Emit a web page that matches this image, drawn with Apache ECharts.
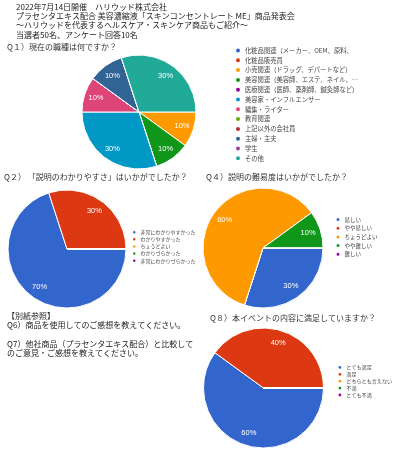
<!DOCTYPE html>
<html><head><meta charset="utf-8">
<script src="https://cdn.jsdelivr.net/npm/echarts@6/dist/echarts.min.js"></script>
<style>html,body{margin:0;padding:0;background:#fff}#c{width:394px;height:450px}</style>
</head><body><div id="c"></div>
<script>
const PALETTE = ['#3366cc','#dc3912','#ff9900','#109618','#990099','#0099c6','#dd4477','#66aa00','#b82e2e','#316395','#994499','#22aa99'];

const headerLines = [
  '2022年7月14日開催　ハリウッド株式会社',
  'プラセンタエキス配合 美容濃縮液「スキンコンセントレート ME」商品発表会',
  '～ハリウッドを代表するヘルスケア・スキンケア商品もご紹介～',
  '当選者50名、アンケート回答10名'
];
const q1Title = 'Q１）現在の職種は何ですか？';
const q2Title = 'Q２） 「説明のわかりやすさ」はいかがでしたか？';
const q4Title = 'Q４）説明の難易度はいかがでしたか？';
const q8Title = 'Q８）本イベントの内容に満足していますか？';
const noteLines = [
  '【別紙参照】',
  'Q6）商品を使用してのご感想を教えてください。',
  '',
  'Q7）他社商品（プラセンタエキス配合）と比較して',
  'のご意見・ご感想を教えてください。'
];

const q1Categories = ['化粧品関連（メーカー、OEM、原料、','化粧品販売員','小売関連（ドラッグ、デパートなど）','美容関連（美容師、エステ、ネイル、…','医療関連（医師、薬剤師、鍼灸師など）','美容家・インフルエンサー','編集・ライター','教育関連','上記以外の会社員','主婦・主夫','学生','その他'];
const q1Values = [0,0,1,1,0,3,1,0,0,1,0,3];

const q2Categories = ['非常にわかりやすかった','わかりやすかった','ちょうどよい','わかりづらかった','非常にわかりづらかった'];
const q2Values = [7,3,0,0,0];

const q4Categories = ['易しい','やや易しい','ちょうどよい','やや難しい','難しい'];
const q4Values = [3,0,6,1,0];

const q8Categories = ['とても満足','満足','どちらとも言えない','不満','とても不満'];
const q8Values = [6,4,0,0,0];

const FONT = '"Noto Sans CJK JP", "Noto Sans", sans-serif';

function makeData(cats, vals) {
  return cats.map((n, i) => ({ name: n, value: vals[i], itemStyle: { color: PALETTE[i] } }));
}

function pieSeries(cats, vals, center, r) {
  const data = makeData(cats, vals);
  return [
    {
      type: 'pie', center: center, radius: r, startAngle: 0, clockwise: true,
      data: data, silent: true,
      itemStyle: { borderColor: '#fff', borderWidth: 1 },
      label: { show: false }, labelLine: { show: false },
      emphasis: { disabled: true }
    },
    {
      type: 'pie', center: center, radius: [r * 0.48, r], startAngle: 0, clockwise: true,
      data: cats.map((n, i) => ({ name: n, value: vals[i], itemStyle: { color: 'rgba(0,0,0,0)' } })),
      silent: true, legendHoverLink: false,
      itemStyle: { borderWidth: 0 },
      label: {
        show: true, position: 'inside', color: '#fff', fontSize: 7.5,
        fontFamily: 'Arial, "Liberation Sans", sans-serif',
        formatter: p => p.value ? Math.round(p.percent) + '%' : ''
      },
      labelLine: { show: false },
      emphasis: { disabled: true }
    }
  ];
}

function legendCfg(cats, left, top, size, fontSize, lh, gap) {
  return {
    data: cats, orient: 'vertical', left: left, top: top, padding: 0,
    icon: 'circle', itemWidth: size, itemHeight: size, itemGap: gap,
    selectedMode: false,
    textStyle: { fontSize: fontSize, lineHeight: lh, color: '#444', fontFamily: FONT, padding: [0,0,0,-1] }
  };
}

function textTitle(text, left, top, fs, lh, color) {
  return {
    text: text, left: left, top: top, padding: 0,
    textStyle: { fontSize: fs, lineHeight: lh, fontWeight: 'normal', color: color, fontFamily: FONT }
  };
}

const chart = echarts.init(document.getElementById('c'));
chart.setOption({
  animation: false,
  backgroundColor: '#fff',
  title: [
    textTitle(headerLines.join('\n'), 16, 2, 8, 9.3, '#222'),
    textTitle(q1Title, 7, 42.5, 8, 9, '#333'),
    textTitle(q2Title, 4, 172, 8, 9, '#333'),
    textTitle(q4Title, 206, 172, 8, 9, '#333'),
    textTitle(q8Title, 210, 313.5, 8, 9, '#333'),
    textTitle(noteLines.join('\n'), 7, 311.3, 8, 9.3, '#222')
  ],
  legend: [
    legendCfg(q1Categories, 234, 46.5, 6, 6.3, 7, 1.8),
    legendCfg(q2Categories, 131, 229, 4.5, 5, 5.5, 0.6),
    legendCfg(q4Categories, 334.5, 216, 5, 5.5, 6, 1.7),
    legendCfg(q8Categories, 336.5, 364, 4.8, 5.1, 5.5, 0.1)
  ],
  series: [].concat(
    pieSeries(q1Categories, q1Values, [139, 112], 57),
    pieSeries(q2Categories, q2Values, [67, 249], 59),
    pieSeries(q4Categories, q4Values, [263, 248], 60),
    pieSeries(q8Categories, q8Values, [263.5, 388], 60)
  )
});
</script>
</body></html>
